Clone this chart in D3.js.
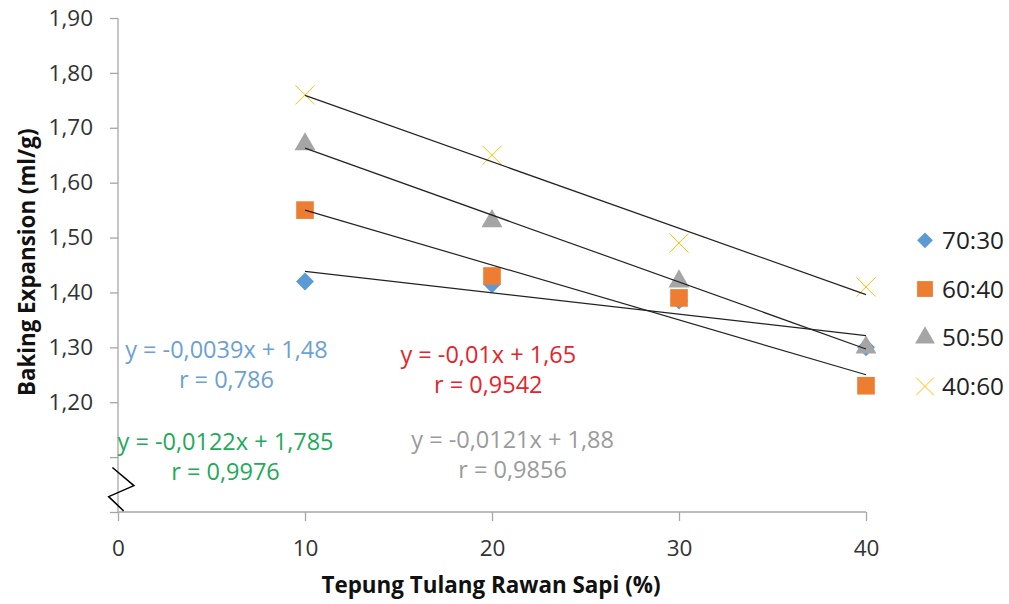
<!DOCTYPE html>
<html>
<head>
<meta charset="utf-8">
<script src="https://cdn.jsdelivr.net/npm/d3@7"></script>
<style>
  body { margin: 0; background: #fff; }
  text { font-family: 'Open Sans', Lato, sans-serif; }
</style>
</head>
<body>
<div id="chart"></div>
<script>
// data
const xValues = [10, 20, 30, 40]
const seriesNames = ['70:30', '60:40', '50:50', '40:60']
const s7030 = [1.42, 1.415, 1.385, 1.30]
const s6040 = [1.55, 1.43, 1.39, 1.23]
const s5050 = [1.67, 1.53, 1.42, 1.30]
const s4060 = [1.76, 1.65, 1.49, 1.41]
const yTicks = [1.0, 1.1, 1.2, 1.3, 1.4, 1.5, 1.6, 1.7, 1.8, 1.9]
const xTicks = [0, 10, 20, 30, 40]

// trendline labels as printed on the chart
const eqLabels = ['y = -0,0039x + 1,48', 'y = -0,01x + 1,65', 'y = -0,0122x + 1,785', 'y = -0,0121x + 1,88']
const rLabels = ['r = 0,786', 'r = 0,9542', 'r = 0,9976', 'r = 0,9856']

const margin = { top: 18, right: 143, bottom: 92, left: 118 }
const width = 1009 - margin.left - margin.right
const height = 604 - margin.top - margin.bottom

const svg = d3
  .select('#chart')
  .append('svg')
  .attr('width', 1009)
  .attr('height', 604)
  .append('g')
  .attr('transform', 'translate(' + margin.left + ',' + margin.top + ')')

const xPositionScale = d3.scaleLinear().domain([0, 40]).range([0, width])
const yPositionScale = d3.scaleLinear().domain([1.0, 1.9]).range([height, 0])

const colors = ['#5B9BD5', '#ED7D31', '#A5A5A5', '#FFC000']
const labelColors = ['#6C9FD3', '#E4242B', '#22A95A', '#9B9B9B']

const series = [s7030, s6040, s5050, s4060].map((vals, i) => {
  return {
    name: seriesNames[i],
    points: vals.map((v, j) => ({ x: xValues[j], y: v }))
  }
})

function fmt(v) {
  return d3.format('.2f')(v).replace('.', ',')
}

// axes
const yAxis = d3
  .axisLeft(yPositionScale)
  .tickValues(yTicks)
  .tickSize(8)
  .tickPadding(17)
  .tickFormat(d => (d >= 1.15 ? fmt(d) : ''))

svg.append('g').attr('class', 'y-axis').call(yAxis)

const xAxis = d3
  .axisBottom(xPositionScale)
  .tickValues(xTicks)
  .tickSize(9)
  .tickPadding(19)

svg
  .append('g')
  .attr('class', 'x-axis')
  .attr('transform', 'translate(0,' + height + ')')
  .call(xAxis)

svg.selectAll('.domain').attr('stroke', '#A6A6A6').attr('stroke-width', 1.3)
svg.selectAll('.tick line').attr('stroke', '#A6A6A6').attr('stroke-width', 1.3)
svg.selectAll('.tick text').attr('font-size', 22.5).attr('fill', '#333')
svg.select('.y-axis .domain').attr('d', 'M0,0.5V' + height)
svg.select('.x-axis .domain').attr('d', 'M0.5,0H' + width)

// axis break zigzag
const breakPts = [[-0.3, 1.081], [0.85, 1.048], [-0.5, 1.028], [0.3, 1.002]]
svg
  .append('path')
  .attr('d', d3.line().x(d => xPositionScale(d[0])).y(d => yPositionScale(d[1]))(breakPts))
  .attr('fill', 'none')
  .attr('stroke', '#000')
  .attr('stroke-width', 1.5)

// axis titles
svg
  .append('text')
  .attr('x', xPositionScale(20) - 1)
  .attr('y', height + 81)
  .attr('text-anchor', 'middle')
  .attr('font-weight', 'bold')
  .attr('font-size', 22.4)
  .attr('fill', '#111')
  .text('Tepung Tulang Rawan Sapi (%)')

svg
  .append('text')
  .attr('transform', 'translate(' + (-83) + ',' + (yPositionScale(1.455)) + ') rotate(-90)')
  .attr('text-anchor', 'middle')
  .attr('font-weight', 'bold')
  .attr('font-size', 22.3)
  .attr('fill', '#111')
  .text('Baking Expansion (ml/g)')

// markers
function drawMarker(g, i, size) {
  if (i === 0) {
    g.append('path')
      .attr('d', d3.symbol().type(d3.symbolSquare).size(size)())
      .attr('transform', 'rotate(45)')
      .attr('fill', colors[i])
  } else if (i === 1 || i === 2) {
    g.append('path')
      .attr('d', d3.symbol().type(i === 1 ? d3.symbolSquare : d3.symbolTriangle).size(size)())
      .attr('fill', colors[i])
  } else {
    const r = Math.sqrt(size) * 0.55
    g.append('path')
      .attr('d', 'M' + -r + ',' + -r + 'L' + r + ',' + r + 'M' + -r + ',' + r + 'L' + r + ',' + -r)
      .attr('stroke', colors[i])
      .attr('stroke-width', 1)
      .attr('fill', 'none')
  }
}

const markerSizes = [160, 310, 190, 300]

series.forEach((s, i) => {
  s.points.forEach(p => {
    const g = svg
      .append('g')
      .attr('transform', 'translate(' + xPositionScale(p.x) + ',' + yPositionScale(p.y) + ')')
    drawMarker(g, i, markerSizes[i])
  })
})

// linear trendlines (least squares)
series.forEach(s => {
  const mx = d3.mean(s.points, d => d.x)
  const my = d3.mean(s.points, d => d.y)
  const slope =
    d3.sum(s.points, d => (d.x - mx) * (d.y - my)) / d3.sum(s.points, d => (d.x - mx) * (d.x - mx))
  const icpt = my - slope * mx
  const x0 = d3.min(xValues)
  const x1 = d3.max(xValues)
  svg
    .append('line')
    .attr('x1', xPositionScale(x0))
    .attr('y1', yPositionScale(icpt + slope * x0))
    .attr('x2', xPositionScale(x1))
    .attr('y2', yPositionScale(icpt + slope * x1))
    .attr('stroke', '#222')
    .attr('stroke-width', 1.2)
})

// equation labels, placed in data space
const labelAt = [[5.8, 1.296], [19.8, 1.287], [5.75, 1.128], [21.1, 1.131]]
eqLabels.forEach((t, i) => {
  const g = svg
    .append('g')
    .attr('transform', 'translate(' + xPositionScale(labelAt[i][0]) + ',' + yPositionScale(labelAt[i][1]) + ')')
  g.append('text')
    .attr('text-anchor', 'middle')
    .attr('dy', '0.35em')
    .attr('font-size', 23.5)
    .attr('fill', labelColors[i])
    .text(t)
  g.append('text')
    .attr('text-anchor', 'middle')
    .attr('y', 30)
    .attr('dy', '0.35em')
    .attr('font-size', 23.5)
    .attr('fill', labelColors[i])
    .text(rLabels[i])
})

// legend
const legend = svg
  .append('g')
  .attr('transform', 'translate(' + (width + 59) + ',' + (yPositionScale(1.495)) + ')')

seriesNames.forEach((name, i) => {
  const g = legend.append('g').attr('transform', 'translate(0,' + i * 48.7 + ')')
  drawMarker(g, i, [125, 250, 170, 260][i])
  g.append('text')
    .attr('x', 17)
    .attr('dy', '0.36em')
    .attr('font-size', 24.3)
    .attr('fill', '#222')
    .text(name)
})
</script>
</body>
</html>
